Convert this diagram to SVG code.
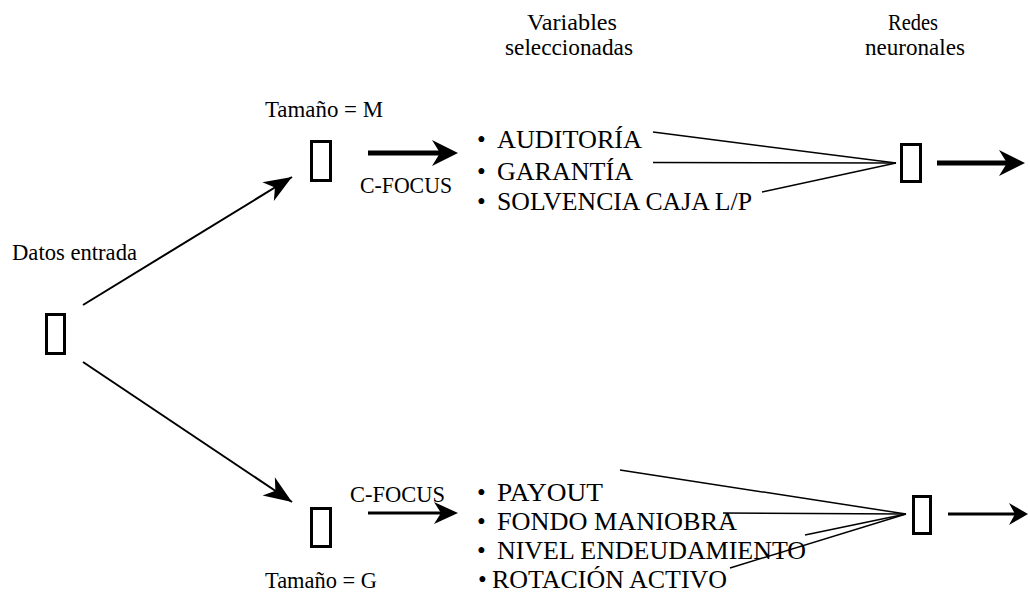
<svg xmlns="http://www.w3.org/2000/svg" width="1030" height="595" viewBox="0 0 1030 595">
<style>
.lbl{font-family:"Liberation Serif","Times New Roman",serif;font-size:23px;fill:#000}
.var{font-family:"Liberation Serif","Times New Roman",serif;font-size:25px;fill:#000}
.box{fill:#fff;stroke:#000;stroke-width:3}
.thin{stroke:#000;stroke-width:2;fill:none}
.fan{stroke:#000;stroke-width:1.5;fill:none}
.bold{stroke:#000;stroke-width:5;fill:none}
.mid{stroke:#000;stroke-width:3;fill:none}
</style>
<defs>
<marker id="hA" viewBox="-30 -12 31 24" refX="0" refY="0" markerWidth="31" markerHeight="24" markerUnits="userSpaceOnUse" orient="auto"><path d="M0,0 L-28,-11 L-20,0 L-28,11 Z" fill="#000"/></marker>
<marker id="hB" viewBox="-16 -14 30 28" refX="0" refY="0" markerWidth="30" markerHeight="28" markerUnits="userSpaceOnUse" orient="auto"><path d="M12,0 L-14,-13 L-6,0 L-14,13 Z" fill="#000"/></marker>
<marker id="hC" viewBox="-16 -12 28 24" refX="0" refY="0" markerWidth="28" markerHeight="24" markerUnits="userSpaceOnUse" orient="auto"><path d="M10,0 L-14,-11 L-7,0 L-14,11 Z" fill="#000"/></marker>
<marker id="hD" viewBox="-12 -12 22 24" refX="0" refY="0" markerWidth="22" markerHeight="24" markerUnits="userSpaceOnUse" orient="auto"><path d="M8,0 L-11,-11 L-5,0 L-11,11 Z" fill="#000"/></marker>
</defs>
<rect width="1030" height="595" fill="#fff"/>

<g id="titles">
<text class="lbl" x="527" y="30" textLength="90" lengthAdjust="spacingAndGlyphs">Variables</text>
<text class="lbl" x="505" y="55" textLength="128" lengthAdjust="spacingAndGlyphs">seleccionadas</text>
<text class="lbl" x="888" y="30" textLength="50" lengthAdjust="spacingAndGlyphs">Redes</text>
<text class="lbl" x="865" y="55" textLength="100" lengthAdjust="spacingAndGlyphs">neuronales</text>
</g>

<g id="connectors">
<line class="thin" x1="83" y1="305" x2="292" y2="177" marker-end="url(#hA)"/>
<line class="thin" x1="83" y1="362" x2="292" y2="502" marker-end="url(#hA)"/>
<line class="bold" x1="368" y1="153" x2="446" y2="153" marker-end="url(#hB)"/>
<line class="mid" x1="368" y1="513" x2="448" y2="513" marker-end="url(#hC)"/>
<line class="fan" x1="653" y1="132" x2="896" y2="163"/>
<line class="fan" x1="653" y1="162.5" x2="896" y2="163"/>
<line class="fan" x1="762" y1="192" x2="896" y2="163"/>
<line class="bold" x1="937" y1="163" x2="1013" y2="163" marker-end="url(#hB)"/>
<line class="fan" x1="620" y1="470" x2="906" y2="514"/>
<line class="fan" x1="723" y1="513" x2="906" y2="514"/>
<line class="fan" x1="805" y1="535" x2="906" y2="514"/>
<line class="fan" x1="730" y1="568" x2="906" y2="514"/>
<line class="mid" x1="948" y1="514" x2="1020" y2="514" marker-end="url(#hD)"/>
</g>

<g id="input">
<rect class="box" x="46.5" y="314.5" width="18" height="39"/>
<text class="lbl" x="12" y="260" textLength="125" lengthAdjust="spacingAndGlyphs">Datos entrada</text>
</g>

<g id="sizeM">
<rect class="box" x="311.5" y="141.5" width="19" height="39"/>
<text class="lbl" x="265" y="117" textLength="118" lengthAdjust="spacingAndGlyphs">Tamaño = M</text>
<text class="lbl" x="360" y="193" textLength="92" lengthAdjust="spacingAndGlyphs">C-FOCUS</text>
</g>

<g id="sizeG">
<rect class="box" x="311.5" y="508.5" width="19" height="38"/>
<text class="lbl" x="350" y="502" textLength="95" lengthAdjust="spacingAndGlyphs">C-FOCUS</text>
<text class="lbl" x="265" y="588" textLength="112" lengthAdjust="spacingAndGlyphs">Tamaño = G</text>
</g>

<g id="varsM">
<text class="var" y="148"><tspan x="477">•</tspan><tspan x="497" textLength="145" lengthAdjust="spacingAndGlyphs">AUDITORÍA</tspan></text>
<text class="var" y="180"><tspan x="477">•</tspan><tspan x="497" textLength="136" lengthAdjust="spacingAndGlyphs">GARANTÍA</tspan></text>
<text class="var" y="210"><tspan x="477">•</tspan><tspan x="497" textLength="255" lengthAdjust="spacingAndGlyphs">SOLVENCIA CAJA L/P</tspan></text>
</g>

<g id="varsG">
<text class="var" y="501"><tspan x="477">•</tspan><tspan x="497" textLength="106" lengthAdjust="spacingAndGlyphs">PAYOUT</tspan></text>
<text class="var" y="530"><tspan x="477">•</tspan><tspan x="497" textLength="240" lengthAdjust="spacingAndGlyphs">FONDO MANIOBRA</tspan></text>
<text class="var" y="559"><tspan x="477">•</tspan><tspan x="497" textLength="309" lengthAdjust="spacingAndGlyphs">NIVEL ENDEUDAMIENTO</tspan></text>
<text class="var" y="588"><tspan x="478">•</tspan><tspan x="492" textLength="235" lengthAdjust="spacingAndGlyphs">ROTACIÓN ACTIVO</tspan></text>
</g>

<g id="netM">
<rect class="box" x="901.5" y="144.5" width="19" height="37"/>
</g>

<g id="netG">
<rect class="box" x="913.5" y="496.5" width="17" height="37"/>
</g>
</svg>
